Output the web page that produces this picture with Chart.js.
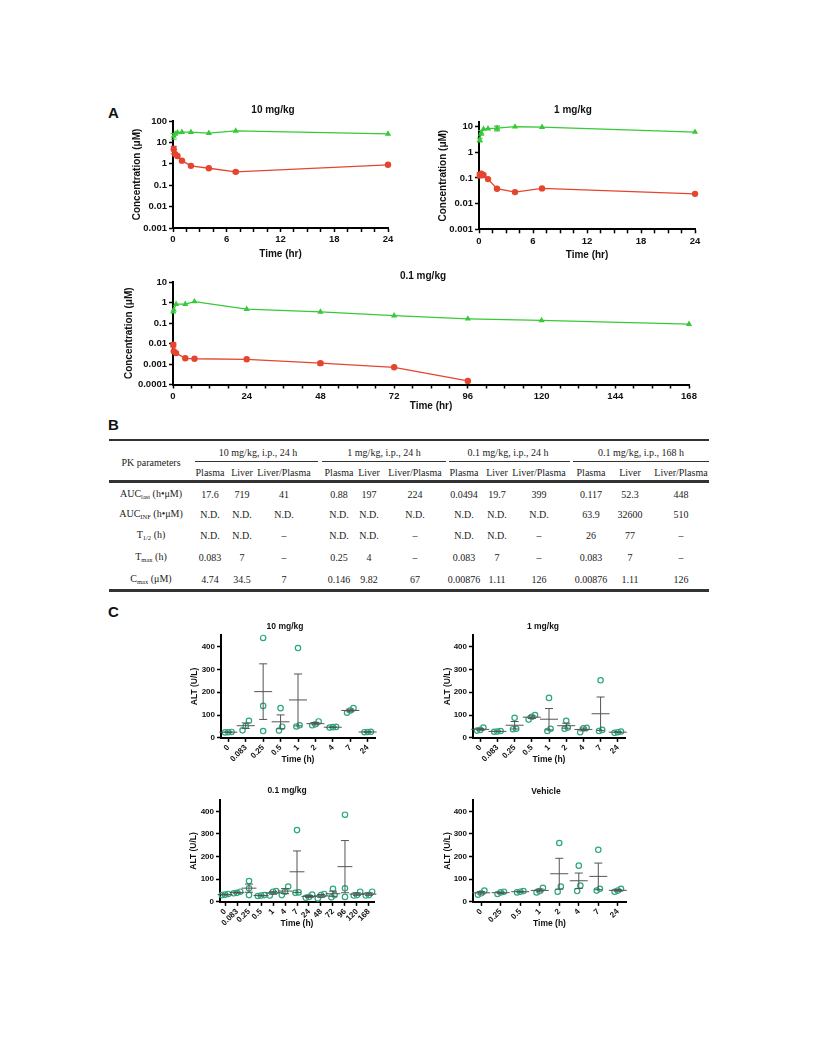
<!DOCTYPE html>
<html>
<head>
<meta charset="utf-8">
<script src="https://cdn.jsdelivr.net/npm/chart.js@4.4.1/dist/chart.umd.min.js"></script>
<style>
  body { margin: 0; background: #fff; }
  #page { position: relative; width: 816px; height: 1056px; font-family: "Liberation Sans", Arial, sans-serif; }
  canvas { position: absolute; }
  .t { position: absolute; font-weight: bold; transform: translate(-50%, -50%); white-space: nowrap; color: #111; }
  .lab { position: absolute; font-weight: bold; font-size: 15px; line-height: 1; color: #111; }
  .cell { position: absolute; transform: translate(-50%, -50%); white-space: nowrap; font-family: "Liberation Serif", "Times New Roman", serif; font-size: 10px; color: #222; }
  .cell sub { font-size: 0.65em; vertical-align: -0.2em; }
  .rule { position: absolute; background: #333; }
</style>
</head>
<body>
<div id="page"></div>
<script>
// ---- panel A : concentration vs time (log) ----
const timeA = [0.083, 0.25, 0.5, 1, 2, 4, 7, 24];

const plasma10 = [4.74, 2.8, 2.3, 1.4, 0.8, 0.62, 0.42, 0.9];
const plasma10Err = [1.8, 0, 0, 0, 0, 0, 0.05, 0];
const liver10 = [20, 25, 29, 30, 30, 27, 34.5, 25];
const liver10Err = [6, 0, 0, 0, 0, 0, 0, 0];

const plasma1 = [0.13, 0.146, 0.13, 0.09, 0.038, 0.028, 0.039, 0.024];
const plasma1Err = [0.03, 0, 0, 0, 0, 0, 0, 0];
const liver1 = [3.0, 5.8, 8.0, 8.3, 8.6, 9.82, 9.5, 6.1];
const liver1Err = [0.5, 1.2, 0, 0, 1.8, 0, 0, 0];

const time01 = [0.083, 0.25, 1, 4, 7, 24, 48, 72, 96, 120, 168];
const plasma01 = [0.00876, 0.0042, 0.0034, 0.0019, 0.0018, 0.0017, 0.0011, 0.00069, 0.00015, null, null];
const plasma01Err = [0.002, 0, 0, 0, 0, 0, 0.0002, 0, 0, 0, 0];
const liver01 = [0.36, 0.44, 0.83, 0.83, 1.11, 0.47, 0.35, 0.23, 0.16, 0.133, 0.088];

const xMajor24 = [0, 6, 12, 18, 24];
const xMajor168 = [0, 24, 48, 72, 96, 120, 144, 168];
const yTicksA = [0.001, 0.01, 0.1, 1, 10, 100];
const yTicksA3 = [0.0001, 0.001, 0.01, 0.1, 1, 10];

// ---- panel B : PK table ----
const pkGroups = ['10 mg/kg, i.p., 24 h', '1 mg/kg, i.p., 24 h', '0.1 mg/kg, i.p., 24 h', '0.1 mg/kg, i.p., 168 h'];
const pkSub = ['Plasma', 'Liver', 'Liver/Plasma'];
const pkParams = ['AUC<sub>last</sub> (h•μM)', 'AUC<sub>INF</sub> (h•μM)', 'T<sub>1/2</sub> (h)', 'T<sub>max</sub> (h)', 'C<sub>max</sub> (μM)'];
const pkAUClast = ['17.6', '719', '41', '0.88', '197', '224', '0.0494', '19.7', '399', '0.117', '52.3', '448'];
const pkAUCinf = ['N.D.', 'N.D.', 'N.D.', 'N.D.', 'N.D.', 'N.D.', 'N.D.', 'N.D.', 'N.D.', '63.9', '32600', '510'];
const pkThalf = ['N.D.', 'N.D.', '–', 'N.D.', 'N.D.', '–', 'N.D.', 'N.D.', '–', '26', '77', '–'];
const pkTmax = ['0.083', '7', '–', '0.25', '4', '–', '0.083', '7', '–', '0.083', '7', '–'];
const pkCmax = ['4.74', '34.5', '7', '0.146', '9.82', '67', '0.00876', '1.11', '126', '0.00876', '1.11', '126'];

// ---- panel C : ALT ----
const cats24 = ['0', '0.083', '0.25', '0.5', '1', '2', '4', '7', '24'];
const alt10 = [[25, 26, 24], [33, 75, 52], [30, 437, 140], [32, 130, 49], [50, 393, 55], [72, 60, 55], [48, 47, 45], [110, 130, 120], [26, 27, 25]];
const alt1 = [[45, 35, 32], [30, 28, 27], [88, 40, 38], [100, 92, 80], [175, 40, 30], [75, 45, 40], [44, 42, 25], [252, 35, 30], [28, 25, 22]];
const cats168 = ['0', '0.083', '0.25', '0.5', '1', '4', '7', '24', '48', '72', '96', '120', '168'];
const alt01 = [[35, 32, 30], [45, 40, 38], [92, 60, 30], [30, 28, 26], [48, 45, 28], [68, 45, 30], [317, 42, 40], [32, 22, 18], [35, 30, 15], [58, 30, 20], [385, 60, 22], [45, 30, 28], [45, 30, 28]];
const catsVeh = ['0', '0.25', '0.5', '1', '2', '4', '7', '24'];
const altVeh = [[50, 38, 32], [45, 42, 35], [48, 45, 42], [62, 48, 42], [260, 68, 45], [160, 72, 48], [230, 58, 50], [58, 50, 45]];
const yTicksC = [0, 100, 200, 300, 400];

const FONT = '"Liberation Sans", Arial, sans-serif';
const RED = '#e5452f', GREEN = '#38c838', TEAL = '#2aa878';
Chart.defaults.font.family = FONT;

const page = document.getElementById('page');

function addText(cls, html, x, y, size) {
  const d = document.createElement('div');
  d.className = cls;
  d.innerHTML = html;
  d.style.left = x + 'px';
  d.style.top = y + 'px';
  if (size) d.style.fontSize = size + 'px';
  page.appendChild(d);
}
function addRule(x1, x2, y, h) {
  const d = document.createElement('div');
  d.className = 'rule';
  Object.assign(d.style, { left: x1 + 'px', top: (y - h / 2) + 'px', width: (x2 - x1) + 'px', height: h + 'px' });
  page.appendChild(d);
}

// canvas placed so that the chart area lands on g.L..g.R / g.T..g.B
function makeCanvas(g, lh) {
  const c = document.createElement('canvas');
  const left = g.L - g.wy, top = g.T - g.padT;
  const hx = g.xty - g.B + lh / 2 + 2;
  const w = Math.round(g.wy + (g.R - g.L) + g.padR);
  const h = Math.round(g.padT + (g.B - g.T) + hx);
  c.width = w; c.height = h;
  Object.assign(c.style, { left: left + 'px', top: top + 'px', width: w + 'px', height: h + 'px' });
  page.appendChild(c);
  return { c, hx, ytPad: g.ytx - left - lh / 2 };
}
const fixY = w => s => { s.width = w; s.paddingTop = 0; s.paddingBottom = 0; s.paddingLeft = 0; s.paddingRight = 0; };
const fixX = h => s => { s.height = h; s.paddingTop = 0; s.paddingBottom = 0; s.paddingLeft = 0; s.paddingRight = 0; };

function axisStyle(size) {
  return {
    grid: { drawOnChartArea: false, tickLength: 4, tickWidth: 1.5, tickColor: '#000' },
    border: { color: '#000', width: 2 },
    font: { family: FONT, size: size, weight: 'bold' }
  };
}

const errPlugin = {
  id: 'errbars',
  afterDatasetsDraw(chart) {
    const ctx = chart.ctx, ys = chart.scales.y;
    chart.data.datasets.forEach((ds, di) => {
      const meta = chart.getDatasetMeta(di);
      meta.data.forEach((pt, i) => {
        const d = ds.data[i];
        if (!d.e) return;
        const y1 = ys.getPixelForValue(d.y + d.e);
        const y2 = ys.getPixelForValue(Math.max(d.y - d.e, ys.min));
        ctx.save();
        ctx.strokeStyle = ds.borderColor;
        ctx.lineWidth = 1.2;
        ctx.beginPath();
        ctx.moveTo(pt.x, y1); ctx.lineTo(pt.x, y2);
        ctx.moveTo(pt.x - 3, y1); ctx.lineTo(pt.x + 3, y1);
        ctx.moveTo(pt.x - 3, y2); ctx.lineTo(pt.x + 3, y2);
        ctx.stroke();
        ctx.restore();
      });
    });
  }
};

function series(times, vals, errs, color, shape) {
  const pts = [];
  times.forEach((t, i) => { if (vals[i] != null) pts.push({ x: t, y: vals[i], e: errs ? errs[i] : 0 }); });
  return {
    data: pts, borderColor: color, backgroundColor: color, pointStyle: shape,
    pointRadius: shape === 'triangle' ? 3.6 : 3.2, pointBorderWidth: 0, borderWidth: 1.3,
    tension: 0, clip: false
  };
}

function concChart(g, title, datasets, xMajor, xStep, yTicks, yMax) {
  const lh = 12;
  const { c, hx, ytPad } = makeCanvas(g, lh);
  addText('t', title, g.tx, g.ty, 10);
  const st = axisStyle(9.5), tt = { family: FONT, size: 10, weight: 'bold' };
  new Chart(c, {
    type: 'line',
    data: { datasets: datasets },
    options: {
      responsive: false, maintainAspectRatio: false, animation: false,
      layout: { padding: { left: 0, top: g.padT, right: g.padR, bottom: 0 } },
      plugins: { legend: { display: false }, tooltip: { enabled: false } },
      scales: {
        x: {
          type: 'linear', min: 0, max: xMajor[xMajor.length - 1],
          afterBuildTicks: s => {
            const t = [];
            for (let v = 0; v <= s.max + 1e-9; v += xStep) t.push({ value: +v.toFixed(3) });
            s.ticks = t;
          },
          afterFit: fixX(hx),
          ticks: { autoSkip: false, maxRotation: 0, minRotation: 0, padding: 2, color: '#111', font: st.font,
                   callback: v => xMajor.includes(v) ? String(v) : '' },
          grid: st.grid, border: st.border,
          title: { display: true, text: 'Time (hr)', color: '#111', font: tt, padding: { top: 0, bottom: 2 } }
        },
        y: {
          type: 'logarithmic', min: yTicks[0], max: yMax,
          afterBuildTicks: s => { s.ticks = yTicks.map(v => ({ value: v })); },
          afterFit: fixY(g.wy),
          ticks: { autoSkip: false, padding: 2, color: '#111', font: st.font, callback: v => String(v) },
          grid: st.grid, border: st.border,
          title: { display: true, text: 'Concentration (μM)', color: '#111', font: tt, padding: { top: ytPad, bottom: 0 } }
        }
      }
    },
    plugins: [errPlugin]
  });
}

// mean +/- SEM drawn over the replicate points
const semPlugin = {
  id: 'meansem',
  afterDatasetsDraw(chart) {
    const ds = chart.data.datasets[0];
    const xs = chart.scales.x, ys = chart.scales.y, ctx = chart.ctx;
    const step = xs.getPixelForValue(1) - xs.getPixelForValue(0);
    const half = Math.min(9, step * 0.62), cap = 4;
    ctx.save();
    ctx.strokeStyle = '#555';
    ctx.lineWidth = 1;
    ds.groups.forEach((grp, i) => {
      const n = grp.length;
      const m = grp.reduce((a, b) => a + b, 0) / n;
      const sd = Math.sqrt(grp.reduce((a, b) => a + (b - m) * (b - m), 0) / (n - 1));
      const se = sd / Math.sqrt(n);
      const px = xs.getPixelForValue(i);
      const pm = ys.getPixelForValue(m), pt = ys.getPixelForValue(m + se), pb = ys.getPixelForValue(Math.max(0, m - se));
      ctx.beginPath();
      ctx.moveTo(px - half, pm); ctx.lineTo(px + half, pm);
      ctx.moveTo(px, pt); ctx.lineTo(px, pb);
      ctx.moveTo(px - cap, pt); ctx.lineTo(px + cap, pt);
      ctx.moveTo(px - cap, pb); ctx.lineTo(px + cap, pb);
      ctx.stroke();
    });
    ctx.restore();
  }
};

// replicate points that would overlap are spread sideways (pixels)
function swarm(grp) {
  const idx = grp.map((v, i) => i).sort((a, b) => grp[a] - grp[b]);
  const off = new Array(grp.length).fill(0);
  let cl = [idx[0]];
  const flush = () => {
    const k = cl.length;
    cl.forEach((j, q) => { off[j] = k === 1 ? 0 : (q - (k - 1) / 2) * 3.2; });
  };
  for (let q = 1; q < idx.length; q++) {
    if (grp[idx[q]] - grp[idx[q - 1]] < 25) cl.push(idx[q]);
    else { flush(); cl = [idx[q]]; }
  }
  flush();
  return off;
}

function altChart(g, title, cats, groups) {
  const lh = 10.2;
  const { c, hx, ytPad } = makeCanvas(g, lh);
  addText('t', title, g.tx, g.ty, 8.5);
  const xmin = -0.42, xmax = cats.length - 1 + 0.42;
  const unit = (xmax - xmin) / (g.R - g.L);
  const pts = [];
  groups.forEach((grp, i) => {
    const off = swarm(grp);
    grp.forEach((v, j) => pts.push({ x: i + off[j] * unit, y: v }));
  });
  const st = axisStyle(8), tt = { family: FONT, size: 8.5, weight: 'bold' };
  new Chart(c, {
    type: 'scatter',
    data: { datasets: [{ data: pts, groups: groups, pointStyle: 'circle', pointRadius: 2.7,
                         borderColor: TEAL, backgroundColor: 'rgba(255,255,255,0)', borderWidth: 1.2,
                         pointBorderWidth: 1.2, clip: false }] },
    options: {
      responsive: false, maintainAspectRatio: false, animation: false,
      layout: { padding: { left: 0, top: g.padT, right: g.padR, bottom: 0 } },
      plugins: { legend: { display: false }, tooltip: { enabled: false } },
      scales: {
        x: {
          type: 'linear', min: xmin, max: xmax,
          afterBuildTicks: s => { s.ticks = cats.map((_, i) => ({ value: i })); },
          afterFit: fixX(hx),
          ticks: { autoSkip: false, minRotation: 45, maxRotation: 45, padding: 1, color: '#111', font: st.font,
                   callback: v => cats[v] },
          grid: st.grid, border: st.border,
          title: { display: true, text: 'Time (h)', color: '#111', font: tt, padding: { top: 0, bottom: 2 } }
        },
        y: {
          min: 0, max: 450,
          afterBuildTicks: s => { s.ticks = yTicksC.map(v => ({ value: v })); },
          afterFit: fixY(g.wy),
          ticks: { autoSkip: false, padding: 2, color: '#111', font: st.font },
          grid: st.grid, border: st.border,
          title: { display: true, text: 'ALT (U/L)', color: '#111', font: tt, padding: { top: ytPad, bottom: 0 } }
        }
      }
    },
    plugins: [semPlugin]
  });
}

// ---------- panel A ----------
addText('lab', 'A', 108, 105);
concChart({ L: 173, R: 388, T: 121, B: 228, wy: 45, padT: 8, padR: 12, ytx: 137, xty: 254, tx: 273, ty: 109 },
  '10 mg/kg',
  [series(timeA, liver10, liver10Err, GREEN, 'triangle'), series(timeA, plasma10, plasma10Err, RED, 'circle')],
  xMajor24, 1.5, yTicksA, 100);
concChart({ L: 479, R: 695, T: 121.5, B: 228.3, wy: 45, padT: 8, padR: 12, ytx: 443, xty: 254, tx: 573, ty: 109 },
  '1 mg/kg',
  [series(timeA, liver1, liver1Err, GREEN, 'triangle'), series(timeA, plasma1, plasma1Err, RED, 'circle')],
  xMajor24, 1.5, yTicksA, 15);
concChart({ L: 173, R: 688.5, T: 282, B: 384.5, wy: 53, padT: 8, padR: 14, ytx: 129.5, xty: 406, tx: 423, ty: 275 },
  '0.1 mg/kg',
  [series(time01, liver01, null, GREEN, 'triangle'), series(time01, plasma01, plasma01Err, RED, 'circle')],
  xMajor168, 6, yTicksA3, 10);

// ---------- panel B ----------
addText('lab', 'B', 108, 417);
const colX = [210, 242, 284, 339, 369, 415, 464, 497, 539, 591, 630, 681];
const groupX = [258, 384, 508, 641];
const groupSpan = [[195, 318], [322, 446], [449, 570], [573, 709]];
const rowY = [494, 514, 535, 557, 579];
addRule(109, 709, 440, 1.6);
groupSpan.forEach(s => addRule(s[0], s[1], 461.5, 1.6));
addRule(109, 709, 481, 3);
addRule(109, 709, 590, 3);
addText('cell', 'PK parameters', 151, 461.5);
pkGroups.forEach((t, i) => addText('cell', t, groupX[i], 451.5));
colX.forEach((x, i) => addText('cell', pkSub[i % 3], x, 472));
[pkAUClast, pkAUCinf, pkThalf, pkTmax, pkCmax].forEach((row, r) => {
  addText('cell', pkParams[r], 151, rowY[r]);
  row.forEach((v, i) => addText('cell', v, colX[i], rowY[r]));
});

// ---------- panel C ----------
addText('lab', 'C', 108, 604);
altChart({ L: 221, R: 375, T: 635, B: 738, wy: 34, padT: 8, padR: 10, ytx: 195, xty: 760, tx: 285, ty: 626 },
  '10 mg/kg', cats24, alt10);
altChart({ L: 473, R: 625, T: 635, B: 738, wy: 33, padT: 8, padR: 10, ytx: 448, xty: 760, tx: 543, ty: 626 },
  '1 mg/kg', cats24, alt1);
altChart({ L: 220, R: 374, T: 800, B: 902, wy: 34, padT: 8, padR: 10, ytx: 194, xty: 924, tx: 287, ty: 790 },
  '0.1 mg/kg', cats168, alt01);
altChart({ L: 473, R: 626, T: 800, B: 902, wy: 33, padT: 8, padR: 10, ytx: 448, xty: 924, tx: 546, ty: 791 },
  'Vehicle', catsVeh, altVeh);
</script>
</body>
</html>
